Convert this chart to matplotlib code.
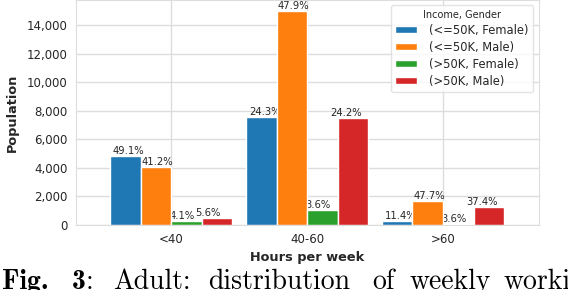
import numpy as np
import matplotlib
matplotlib.use("Agg")
from matplotlib import pyplot
import seaborn as sns

categories = ["<40", "40-60", ">60"]
series_names = ["(<=50K, Female)", "(<=50K, Male)", "(>50K, Female)", "(>50K, Male)"]
le50_female = [4830, 7560, 280]
le50_male = [4060, 14980, 1680]
gt50_female = [280, 1050, 40]
gt50_male = [490, 7490, 1260]
le50_female_pct = ["49.1%", "24.3%", "11.4%"]
le50_male_pct = ["41.2%", "47.9%", "47.7%"]
gt50_female_pct = ["4.1%", "3.6%", "3.6%"]
gt50_male_pct = ["5.6%", "24.2%", "37.4%"]
yticks = [0, 2000, 4000, 6000, 8000, 10000, 12000, 14000]

sns.set_style("whitegrid")
pyplot.rcParams["font.family"] = ["DejaVu Sans"]

COLORS = ["#1f77b4", "#ff7f0e", "#2ca02c", "#d62728"]
values = [le50_female, le50_male, gt50_female, gt50_male]
labels = [le50_female_pct, le50_male_pct, gt50_female_pct, gt50_male_pct]

figure = pyplot.figure(figsize=(5.68, 2.90), dpi=100)
axes = figure.add_axes([76 / 568, 1 - 225 / 290, 463 / 568, 225 / 290])

width = 0.225
x = np.arange(len(categories))
# label offsets (data units) relative to left edge of each bar
text_shift = [0.022, 0.006, -0.01, -0.051]
for j, (vals, pcts) in enumerate(zip(values, labels)):
    left = x - 2 * width + j * width
    axes.bar(left, vals, width=width, align="edge", color=COLORS[j],
             edgecolor="white", linewidth=1, label=series_names[j], zorder=2)
    for xl, v, p in zip(left, vals, pcts):
        axes.text(xl + text_shift[j], v + 10, p, ha="left", va="bottom",
                  fontsize=7.2, color="#262626", zorder=1)

axes.set_xlim(-0.7, 2.706)
axes.set_ylim(0, 15750)
axes.set_xticks(x)
axes.set_xticklabels(categories)
axes.set_yticks(yticks)
axes.set_yticklabels(["{:,}".format(t) for t in yticks])
axes.tick_params(labelsize=8.5, colors="#262626", pad=6, length=0)
axes.grid(True, color="#dddddd", linewidth=1)
axes.set_axisbelow(True)
for s in axes.spines.values():
    s.set_color("#dddddd")

axes.set_xlabel("Hours per week", fontsize=9.3, fontweight="bold", color="#262626", labelpad=3)
axes.set_ylabel("Population", fontsize=9.3, fontweight="bold", color="#262626", labelpad=6)

leg = axes.legend(title="Income, Gender", fontsize=8.3, title_fontsize=7,
                  loc="upper right", bbox_to_anchor=(1 - 6 / 463, 1 - 5 / 225),
                  borderaxespad=0, frameon=True,
                  handlelength=1.9, handleheight=0.55, labelspacing=0.35,
                  borderpad=0.4, handletextpad=1.0)
leg.get_frame().set_edgecolor("#dddddd")
for t in leg.get_texts():
    t.set_color("#262626")
leg.get_title().set_color("#262626")

# caption under the figure (cut off at the bottom edge like the source)
cap_y = 1 - 289 / 290
caption = [("Fig.", 2, "cmb10"), ("3", 72, "cmb10"), (":", 86, "cmr10"),
           ("Adult:", 113, "cmr10"), ("distribution", 208, "cmr10"),
           ("of", 372, "cmr10"), ("weekly", 410, "cmr10"), ("working", 504, "cmr10")]
for word, px, fam in caption:
    figure.text(px / 568, cap_y, word, fontsize=20, family=fam, color="black",
                ha="left", va="baseline")

figure.savefig("out.png", dpi=100)
